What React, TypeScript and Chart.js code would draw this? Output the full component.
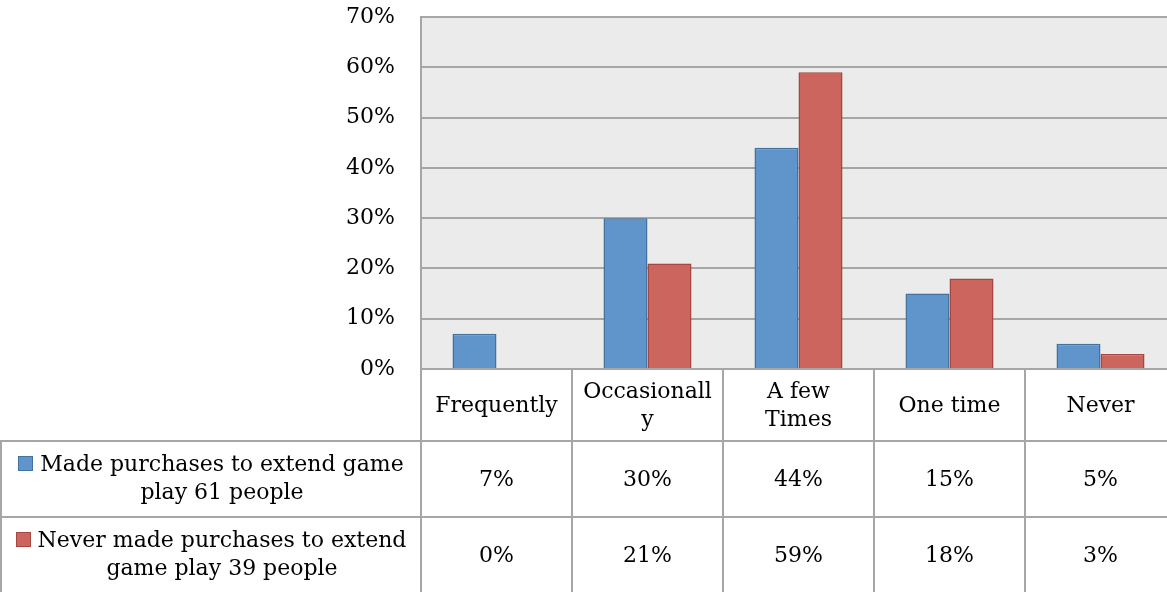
import React, { useEffect, useRef } from 'react';
import { Chart, registerables } from 'chart.js';

Chart.register(...registerables);

// Category headers (already wrapped as they appear in the table header)
const categories: string[][] = [
  ['Frequently'],
  ['Occasionall', 'y'],
  ['A few', 'Times'],
  ['One time'],
  ['Never'],
];

const seriesNames: string[][] = [
  ['Made purchases to extend game', 'play 61 people'],
  ['Never made purchases to extend', 'game play 39 people'],
];

// Percent of respondents per frequency
const madePurchases = [7, 30, 44, 15, 5];
const neverPurchased = [0, 21, 59, 18, 3];

const yMax = 70;
const yStep = 10;

const FONT_FAMILY = '"DejaVu Serif", "Liberation Serif", serif';
const WORD_SIZE = 22;
const NUM_SIZE = 22;
const LINE_COLOR = '#a6a6a6';
const BLUE = '#5f95cb';
const BLUE_EDGE = '#44729f';
const RED = '#cd655f';
const RED_EDGE = '#a54641';

const CANVAS_W = 1176;
const CANVAS_H = 592;
const PLOT_LEFT = 421;
const PLOT_TOP = 17;
const PLOT_BOTTOM = 369;
const HEADER_H = 72;
const ROW_H = 76;
const LABEL_CENTER_X = 222;
const LINE_GAP = 28;

const plotBackground = {
  id: 'plotBackground',
  beforeDraw(chart: any) {
    const { ctx, chartArea } = chart;
    ctx.save();
    ctx.fillStyle = '#ebebeb';
    ctx.fillRect(chartArea.left, chartArea.top, chartArea.right - chartArea.left, chartArea.bottom - chartArea.top);
    ctx.restore();
  },
};

const dataTable = {
  id: 'dataTable',
  afterDraw(chart: any) {
    const { ctx, chartArea } = chart;
    const n = categories.length;
    const colW = (chartArea.right - chartArea.left) / n;
    const top = chartArea.bottom;
    const headerBottom = top + HEADER_H;
    const row1Bottom = headerBottom + ROW_H;
    const seriesVals = [madePurchases, neverPurchased];
    const seriesFill = [BLUE, RED];
    const seriesEdge = [BLUE_EDGE, RED_EDGE];

    ctx.save();
    ctx.strokeStyle = LINE_COLOR;
    ctx.lineWidth = 2;
    ctx.beginPath();
    for (let i = 0; i <= n; i++) {
      const x = Math.round(chartArea.left + i * colW);
      ctx.moveTo(x, top);
      ctx.lineTo(x, CANVAS_H);
    }
    ctx.moveTo(0, headerBottom);
    ctx.lineTo(CANVAS_W, headerBottom);
    ctx.moveTo(0, row1Bottom);
    ctx.lineTo(CANVAS_W, row1Bottom);
    ctx.moveTo(1, headerBottom);
    ctx.lineTo(1, CANVAS_H);
    ctx.stroke();

    ctx.fillStyle = '#000';
    ctx.textAlign = 'center';
    ctx.textBaseline = 'middle';

    // Header row: category names
    ctx.font = `${WORD_SIZE}px ${FONT_FAMILY}`;
    const headerMid = top + HEADER_H / 2 + 1;
    categories.forEach((lines, i) => {
      const cx = chartArea.left + (i + 0.5) * colW;
      const start = headerMid - ((lines.length - 1) * LINE_GAP) / 2;
      lines.forEach((t, j) => ctx.fillText(t, cx, start + j * LINE_GAP));
    });

    // Series rows: legend key, name and values
    seriesVals.forEach((vals, r) => {
      const mid = headerBottom + r * ROW_H + ROW_H / 2;
      const lines = seriesNames[r];
      const start = mid - ((lines.length - 1) * LINE_GAP) / 2;
      ctx.fillStyle = '#000';
      ctx.font = `${WORD_SIZE}px ${FONT_FAMILY}`;
      lines.forEach((t, j) => ctx.fillText(t, LABEL_CENTER_X, start + j * LINE_GAP));
      const w0 = ctx.measureText(lines[0]).width;
      const keyX = Math.round(LABEL_CENTER_X - w0 / 2 - 22);
      const keyY = Math.round(start - 9);
      ctx.fillStyle = seriesFill[r];
      ctx.fillRect(keyX, keyY, 15, 15);
      ctx.strokeStyle = seriesEdge[r];
      ctx.lineWidth = 1;
      ctx.strokeRect(keyX + 0.5, keyY + 0.5, 14, 14);
      ctx.fillStyle = '#000';
      ctx.font = `${NUM_SIZE}px ${FONT_FAMILY}`;
      vals.forEach((v, i) => {
        const cx = chartArea.left + (i + 0.5) * colW;
        ctx.fillText(`${v}%`, cx, mid + 1);
      });
    });
    ctx.restore();
  },
};

export default function App() {
  const canvasRef = useRef<HTMLCanvasElement | null>(null);

  useEffect(() => {
    const canvas = canvasRef.current;
    if (!canvas) return;
    const chart = new Chart(canvas, {
      type: 'bar',
      data: {
        labels: categories,
        datasets: [
          {
            label: seriesNames[0].join(' '),
            data: madePurchases,
            backgroundColor: BLUE,
            borderColor: BLUE_EDGE,
            borderWidth: 1.5,
          },
          {
            label: seriesNames[1].join(' '),
            data: neverPurchased,
            backgroundColor: RED,
            borderColor: RED_EDGE,
            borderWidth: 1.5,
          },
        ],
      },
      options: {
        responsive: false,
        animation: false,
        layout: { padding: { top: PLOT_TOP, bottom: CANVAS_H - PLOT_BOTTOM, left: 0, right: 0 } },
        datasets: {
          bar: { categoryPercentage: 0.583, barPercentage: 1 },
        },
        plugins: {
          legend: { display: false },
          tooltip: { enabled: false },
          title: { display: false },
        },
        scales: {
          x: { display: false },
          y: {
            min: 0,
            max: yMax,
            afterFit(scale: any) {
              scale.width = PLOT_LEFT;
              scale.paddingTop = 0;
              scale.paddingBottom = 0;
            },
            border: { display: true, color: LINE_COLOR, width: 2 },
            grid: { color: LINE_COLOR, lineWidth: 2, drawTicks: false },
            ticks: {
              stepSize: yStep,
              padding: 26,
              color: '#000',
              font: { family: FONT_FAMILY, size: NUM_SIZE },
              callback: (v: any) => `${v}%`,
            },
          },
        },
      },
      plugins: [plotBackground, dataTable],
    });
    return () => chart.destroy();
  }, []);

  return (
    <div style={{ position: 'fixed', left: 0, top: 0, width: 1167, height: CANVAS_H, overflow: 'hidden', background: '#fff' }}>
      <canvas ref={canvasRef} width={CANVAS_W} height={CANVAS_H} style={{ display: 'block' }} />
    </div>
  );
}
